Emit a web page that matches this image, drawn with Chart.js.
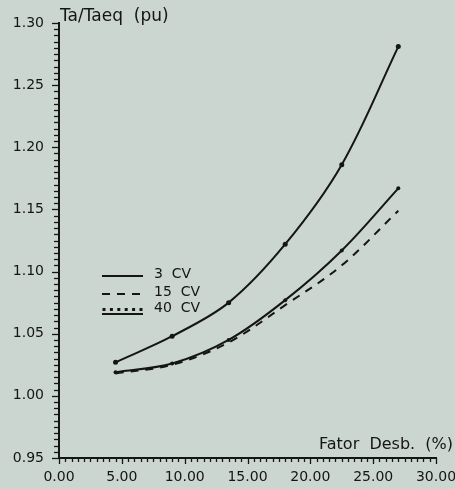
<!DOCTYPE html>
<html>
<head>
<meta charset="utf-8">
<script src="https://cdn.jsdelivr.net/npm/chart.js@4"></script>
<style>
  html, body { margin: 0; padding: 0; background: #cad6cf; }
  canvas { display: block; }
</style>
</head>
<body>
<canvas id="c" width="455" height="489"></canvas>
<script>
// Unbalance factor (%) at which torque ratio was computed
const fatorDesb = [4.5, 9.0, 13.5, 18.0, 22.5, 27.0];
// Ta/Taeq (pu) for each motor rating
const motor3cv  = [1.027, 1.048, 1.075, 1.122, 1.186, 1.281];
const motor15cv = [1.018, 1.025, 1.043, 1.073, 1.105, 1.149];
const motor40cv = [1.019, 1.026, 1.045, 1.077, 1.117, 1.167];
const seriesNames = ['3  CV', '15  CV', '40  CV'];
const yTitle = 'Ta/Taeq  (pu)';
const xTitle = 'Fator  Desb.  (%)';

const INK = '#151515';
const FONT = '"DejaVu Sans", sans-serif';

function pts(ys) { return fatorDesb.map((x, i) => ({ x, y: ys[i] })); }

const isMajor = (v, step) => Math.abs(v / step - Math.round(v / step)) < 1e-6;

// Background, tick marks, axis titles and the in-plot legend
const decor = {
  id: 'decor',
  beforeDraw(chart) {
    const ctx = chart.ctx;
    ctx.save();
    ctx.fillStyle = '#cad6cf';
    ctx.fillRect(0, 0, chart.width, chart.height);
    ctx.restore();
  },
  afterDraw(chart) {
    const ctx = chart.ctx;
    const xs = chart.scales.x, ys = chart.scales.y;
    ctx.save();
    ctx.strokeStyle = INK;
    ctx.lineWidth = 1.3;
    // x ticks hang below the axis
    xs.ticks.forEach(t => {
      const px = Math.round(xs.getPixelForValue(t.value)) + 0.5;
      const len = isMajor(t.value, 5) ? 6 : 4;
      ctx.beginPath();
      ctx.moveTo(px, xs.top);
      ctx.lineTo(px, xs.top + len);
      ctx.stroke();
    });
    // y ticks stick out to the left
    ys.ticks.forEach(t => {
      const py = Math.round(ys.getPixelForValue(t.value)) + 0.5;
      const len = isMajor(t.value, 0.05) ? 7 : 5;
      ctx.beginPath();
      ctx.moveTo(ys.right, py);
      ctx.lineTo(ys.right - len, py);
      ctx.stroke();
    });

    // axis titles
    ctx.fillStyle = INK;
    ctx.textBaseline = 'middle';
    ctx.textAlign = 'left';
    ctx.font = '17px ' + FONT;
    ctx.fillText(yTitle, ys.right + 1, 17);
    ctx.textAlign = 'right';
    ctx.font = '16px ' + FONT;
    ctx.fillText(xTitle, 453, 445);

    // legend inside the plot
    const lx0 = 102, lx1 = 143, tx = 154;
    const rows = [274, 292, 308];
    chart.data.datasets.forEach((ds, i) => {
      const y = rows[i];
      ctx.strokeStyle = INK;
      ctx.lineWidth = 2;
      if (i === 2) {
        // dotted marker style drawn over a base line
        ctx.setLineDash([]);
        ctx.beginPath();
        ctx.moveTo(lx0, y + 6); ctx.lineTo(lx1, y + 6); ctx.stroke();
        ctx.fillStyle = INK;
        for (let k = 0; k < 6; k++) {
          const dx = lx0 + 2 + k * (lx1 - lx0 - 4) / 5;
          ctx.fillRect(dx - 1.5, y, 3, 3);
        }
      } else {
        ctx.setLineDash(ds.borderDash || []);
        ctx.beginPath();
        ctx.moveTo(lx0, y + 2); ctx.lineTo(lx1, y + 2); ctx.stroke();
      }
      ctx.setLineDash([]);
      ctx.fillStyle = INK;
      ctx.font = '14px ' + FONT;
      ctx.textAlign = 'left';
      ctx.textBaseline = 'middle';
      ctx.fillText(ds.label, tx, y);
    });
    ctx.restore();
  }
};

new Chart(document.getElementById('c'), {
  type: 'line',
  data: {
    datasets: [
      { label: seriesNames[0], data: pts(motor3cv), borderColor: INK, borderWidth: 2,
        pointRadius: 2.5, pointBackgroundColor: INK, pointBorderWidth: 0 },
      { label: seriesNames[1], data: pts(motor15cv), borderColor: INK, borderWidth: 2,
        borderDash: [8, 7], pointRadius: 0 },
      { label: seriesNames[2], data: pts(motor40cv), borderColor: INK, borderWidth: 2,
        pointRadius: 2, pointBackgroundColor: INK, pointBorderWidth: 0 }
    ]
  },
  options: {
    responsive: false,
    animation: false,
    tension: 0.35,
    layout: { padding: { top: 23, right: 19, left: 0, bottom: 0 } },
    plugins: { legend: { display: false }, tooltip: { enabled: false } },
    scales: {
      x: {
        type: 'linear', min: 0, max: 30,
        afterFit: s => { s.height = 31; s.paddingLeft = 0; s.paddingRight = 0; },
        ticks: {
          stepSize: 0.5, autoSkip: false, maxRotation: 0, padding: 11,
          color: INK, font: { family: FONT, size: 14 },
          callback: v => isMajor(v, 5) ? v.toFixed(2) : ''
        },
        grid: { drawOnChartArea: false, drawTicks: false },
        border: { display: true, color: INK, width: 2 }
      },
      y: {
        type: 'linear', min: 0.95, max: 1.30,
        afterFit: s => { s.width = 59; s.paddingTop = 0; s.paddingBottom = 0; },
        ticks: {
          stepSize: 0.005, autoSkip: false, padding: 15,
          color: INK, font: { family: FONT, size: 14 },
          callback: v => isMajor(v, 0.05) ? v.toFixed(2) : ''
        },
        grid: { drawOnChartArea: false, drawTicks: false },
        border: { display: true, color: INK, width: 2 }
      }
    }
  },
  plugins: [decor]
});
</script>
</body>
</html>
